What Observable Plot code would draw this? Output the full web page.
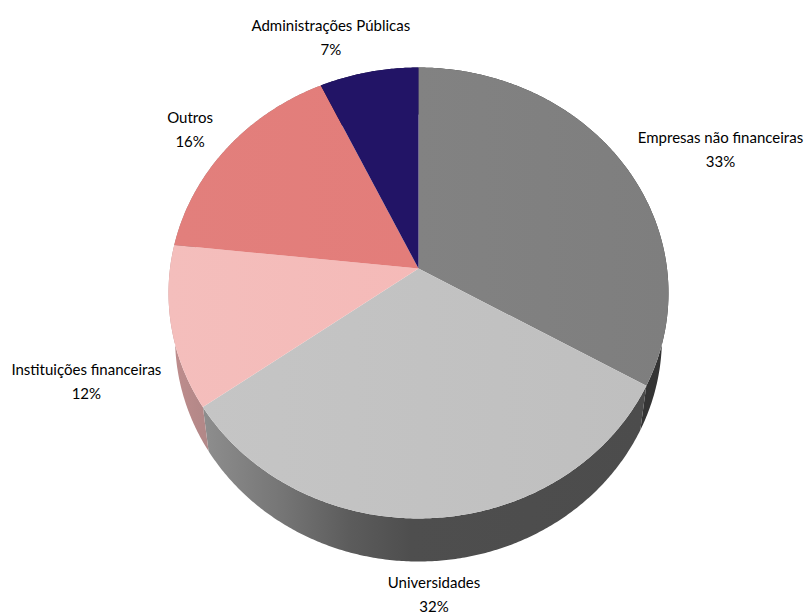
<!DOCTYPE html>
<html>
<head>
<meta charset="utf-8">
<script src="https://cdn.jsdelivr.net/npm/d3@7"></script>
<script src="https://cdn.jsdelivr.net/npm/@observablehq/plot@0.6"></script>
<style>
html,body{margin:0;padding:0;background:#fff}
svg{display:block}
</style>
</head>
<body>
<div id="chart"></div>
<script>
const categories = ["Empresas não financeiras","Universidades","Instituições financeiras","Outros","Administrações Públicas"];
const shares = [33.3, 31.8, 11.6, 16.2, 7.1];

const topFills = ["url(#t0)","url(#t1)","url(#t2)","url(#t3)","#221466"];
const wallFills = ["#343434","url(#w1)","url(#w2)","#a08080","#181040"];
const labelOffsets = [[98,-15],[1.5,74],[-85,52.5],[-37.5,-20],[-38,-37]];

const W = 805, H = 615;
const persp = -0.1086;
const levels = {
  top:{rx:248.5,a:225.4,b:-24},
  bottom:{rx:242,a:218.6,b:21.2}
};
function project(deg, level, r = 1){
  const t = deg*Math.PI/180, x = r*Math.sin(t), y = -r*Math.cos(t), d = 1+persp*y, l = levels[level];
  return {x:418+l.rx*x/d, y:292+(l.a*y+l.b)/d};
}
const pie = [];
let acc = 0;
shares.forEach((v,i)=>{
  const start = acc/100*360, end = (acc+v)/100*360;
  acc += v;
  pie.push({name:categories[i], value:v, start, end, mid:(start+end)/2, i});
});
const sweep = (a,b,level)=>{
  const n = Math.max(2,Math.ceil(Math.abs(b-a))*2);
  return d3.range(n+1).map(k=>project(a+(b-a)*k/n,level));
};
const topShape = s => [project(0,"top",0), ...sweep(s.start,s.end,"top")];
const wallShape = s => [...sweep(s.start,s.end,"top"), ...sweep(s.end,s.start,"bottom")];

function grad(id, stops){
  return `<linearGradient id="${id}" x1="0" y1="0" x2="1" y2="0">`+
    stops.map(([o,c])=>`<stop offset="${o}" stop-color="${c}"/>`).join("")+`</linearGradient>`;
}
const defsMark = ()=>{
  const g = document.createElementNS("http://www.w3.org/2000/svg","defs");
  g.innerHTML =
    grad("t0",[[0,"#828282"],[1,"#7e7e7e"]])+
    grad("t1",[[0,"#c5c5c5"],[1,"#bfbfbf"]])+
    grad("t2",[[0,"#f4bebc"],[1,"#f5bab8"]])+
    grad("t3",[[0,"#e27f7c"],[1,"#e37d7a"]])+
    grad("w1",[[0,"#8e8e8e"],[0.18,"#757575"],[0.33,"#5c5c5c"],[0.47,"#4e4e4e"],[1,"#4c4c4c"]])+
    grad("w2",[[0,"#c08e8e"],[0.8,"#b48888"],[1,"#b08888"]]);
  return g;
};

const walls = pie.map(s=>Plot.line(wallShape(s),{x:"x",y:"y",fill:wallFills[s.i],stroke:"none"}));
const tops = pie.map(s=>Plot.line(topShape(s),{x:"x",y:"y",fill:topFills[s.i],stroke:"none"}));
const labels = pie.map(s=>{
  const p = project(s.mid,"top");
  const [dx,dy] = labelOffsets[s.i];
  return Plot.text([{x:p.x+dx,y:p.y+dy,t:`${s.name}\n${Math.round(s.value)}%`}],{
    x:"x",y:"y",text:"t",fill:"#000",fontSize:15,lineHeight:1.6,lineAnchor:"middle",textAnchor:"middle"
  });
});

const chart = Plot.plot({
  width:W,height:H,margin:0,
  style:{fontFamily:"Lato, 'Open Sans', sans-serif",background:"#fff"},
  x:{domain:[0,W],range:[0,W],axis:null},
  y:{domain:[0,H],range:[0,H],axis:null},
  marks:[defsMark,...walls,...tops,...labels]
});
document.getElementById("chart").append(chart);
</script>
</body>
</html>
